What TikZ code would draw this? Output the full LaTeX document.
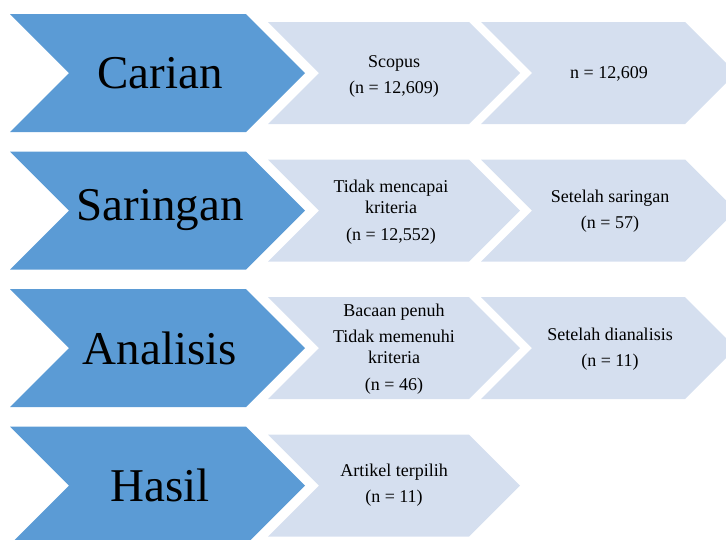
\documentclass[tikz,border=0pt]{standalone}
\usepackage{fontspec}
\setmainfont{Liberation Serif}
\usetikzlibrary{positioning}
\definecolor{stageblue}{RGB}{91,155,213}
\definecolor{stagelight}{RGB}{213,223,239}
% chevron outline: left x, top y, width, height
\newcommand{\chevpath}[4]{(#1,#2) -- ++(#3-#4/2,0) -- ++(#4/2,#4/2) -- ++(-#4/2,#4/2) -- ++(-#3+#4/2,0) -- ++(#4/2,-#4/2) -- cycle}

\begin{document}
\begin{tikzpicture}[
    x=1pt, y=-1pt,
    stage/.style={fill=stageblue},
    info/.style={fill=stagelight},
    stagetext/.style={font=\fontsize{47}{50}\selectfont, inner sep=0pt},
    infotext/.style={font=\fontsize{18}{21}\selectfont, align=center, inner sep=0pt}
]
\useasboundingbox (0,0) rectangle (726,539);
\clip (0,0) rectangle (726,539);

% row 1
\path[stage] \chevpath{10}{14}{295}{118};
\path[info] \chevpath{268}{22}{252}{102};
\path[info] \chevpath{481}{22}{255}{102};
\node[stagetext] (carian) at (160,73) {Carian};
\node[infotext] (scopus) at (394,76) {Scopus\\[5pt](n = 12,609)};
\node[infotext] (jumlah) at (609,74) {n = 12,609};

% row 2
\path[stage] \chevpath{10}{151.5}{295}{118};
\path[info] \chevpath{268}{159.5}{252}{102};
\path[info] \chevpath{481}{159.5}{255}{102};
\node[stagetext] (saringan) at (160,210.5) {Saringan};
\node[infotext] (tolak) at (391,212) {Tidak mencapai\\kriteria\\[6pt](n = 12,552)};
\node[infotext] (lepassaring) at (610,211.5) {Setelah saringan\\[5pt](n = 57)};

% row 3
\path[stage] \chevpath{10}{289}{295}{118};
\path[info] \chevpath{268}{297}{252}{102};
\path[info] \chevpath{481}{297}{255}{102};
\node[stagetext] (analisis) at (160,348) {Analisis};
\node[infotext] (penuh) at (394,349) {Bacaan penuh\\[5pt]Tidak memenuhi\\kriteria\\[6pt](n = 46)};
\node[infotext] (lepasanalisis) at (610,349) {Setelah dianalisis\\[5pt](n = 11)};

% row 4
\path[stage] \chevpath{10}{426.5}{295}{118};
\path[info] \chevpath{268}{434.5}{252}{102};
\node[stagetext] (hasil) at (160,485) {Hasil};
\node[infotext] (terpilih) at (394,485) {Artikel terpilih\\[5pt](n = 11)};
\end{tikzpicture}
\end{document}
